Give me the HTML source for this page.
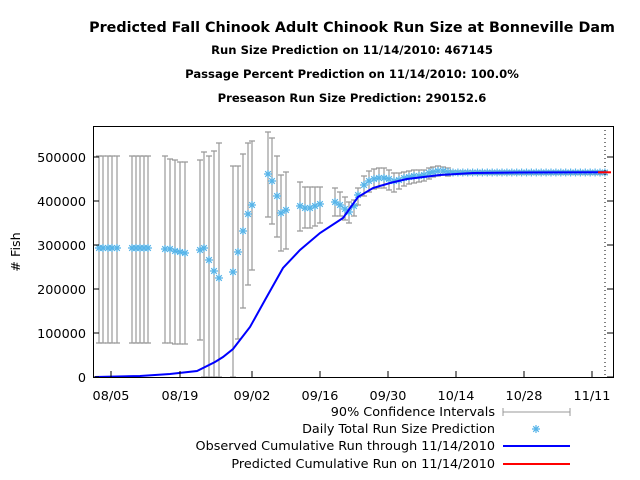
<!DOCTYPE html>
<html><head><meta charset="utf-8"><style>
body{margin:0;background:#fff}
svg{display:block;font-family:"DejaVu Sans","Liberation Sans",sans-serif}
</style></head><body>
<svg id="s" width="640" height="480" viewBox="0 0 640 480">
<g font-weight="bold" text-anchor="middle" fill="#000">
<text x="352" y="32" font-size="14.3">Predicted Fall Chinook Adult Chinook Run Size at Bonneville Dam</text>
<text x="352" y="54" font-size="11.6">Run Size Prediction on 11/14/2010: 467145</text>
<text x="352" y="78" font-size="11.6">Passage Percent Prediction on 11/14/2010: 100.0%</text>
<text x="352" y="102" font-size="11.6">Preseason Run Size Prediction: 290152.6</text>
</g>
<g font-size="12.8" fill="#000" text-anchor="end">
<text x="86" y="382">0</text>
<text x="86" y="338">100000</text>
<text x="86" y="294">200000</text>
<text x="86" y="250">300000</text>
<text x="86" y="206">400000</text>
<text x="86" y="162">500000</text>
</g>
<text transform="translate(20,252) rotate(-90)" font-size="12.8" text-anchor="middle"># Fish</text>
<g font-size="12.8" text-anchor="middle">
<text x="111" y="400">08/05</text><text x="180" y="400">08/19</text><text x="252" y="400">09/02</text>
<text x="320" y="400">09/16</text><text x="388" y="400">09/30</text><text x="456" y="400">10/14</text>
<text x="524" y="400">10/28</text><text x="592" y="400">11/11</text>
</g>
<g id="bars" stroke="#999" stroke-width="1.2" fill="none"></g>
<g id="pts" stroke="#56b4e9" stroke-width="1.2"></g>
<polyline fill="none" stroke="#0000ff" stroke-width="2" points="95,377 140,376 170,374 197,371 215,362 223,357 233,349 250,327 265,300 283,268 300,250 320,233 343,218 358,197 373,188 390,183 407,179 440,175 473,173 520,172.5 606,172.3"/>
<line x1="598" y1="172.3" x2="611" y2="172.3" stroke="#ff0000" stroke-width="2"/>
<line x1="605" y1="126" x2="605" y2="377" stroke="#000" stroke-dasharray="1,3"/>
<g id="ticks" stroke="#000"></g>
<rect x="93.5" y="126.5" width="520" height="251" fill="none" stroke="#000"/>
<g font-size="12.8" text-anchor="end">
<text x="495" y="416">90% Confidence Intervals</text>
<text x="495" y="433">Daily Total Run Size Prediction</text>
<text x="495" y="450">Observed Cumulative Run through 11/14/2010</text>
<text x="495" y="468">Predicted Cumulative Run on 11/14/2010</text>
</g>
<g stroke="#999"><line x1="503" y1="412" x2="570" y2="412"/><line x1="503" y1="408" x2="503" y2="416"/><line x1="570" y1="408" x2="570" y2="416"/></g>
<g id="lp" stroke="#56b4e9" stroke-width="1.2"></g>
<line x1="503" y1="446" x2="570" y2="446" stroke="#0000ff" stroke-width="2"/>
<line x1="503" y1="464" x2="570" y2="464" stroke="#ff0000" stroke-width="2"/>
</svg>
<script>
var NS="http://www.w3.org/2000/svg";
function el(p,t,a){var e=document.createElementNS(NS,t);for(var k in a)e.setAttribute(k,a[k]);document.getElementById(p).appendChild(e);}
function star(p,x,y){var r=4;el(p,"path",{d:"M"+(x-r)+","+y+"h"+2*r+"M"+x+","+(y-r)+"v"+2*r+"M"+(x-r*.7)+","+(y-r*.7)+"l"+1.4*r+","+1.4*r+"M"+(x-r*.7)+","+(y+r*.7)+"l"+1.4*r+","+(-1.4*r)});}
function bar(x,u,l){el("bars","path",{d:"M"+x+","+u+"V"+l+"M"+(x-3)+","+u+"h6M"+(x-3)+","+l+"h6"});}
var d=[[99,248,156,343],[103,248,156,343],[108,248,156,343],[112,248,156,343],[117,248,156,343],
[132,248,156,343],[136,248,156,343],[140,248,156,343],[144,248,156,343],[148,248,156,343],
[165,249,156,343],[170,249,159,343],[175,251,160,344],[180,252,162,344],[185,253,162,344],
[200,250,160,340],[204,248,152,377],[209,260,156,377],[214,271,151,377],[219,278,143,377],
[233,272,166,377],[238,252,166,339],[243,231,154,308],[248,214,143,285],[252,205,141,270],
[268,174,132,217],[272,181,138,224],[277,196,156,237],[281,213,175,251],[286,210,172,249],
[300,206,182,231],[305,208,187,228],[310,208,187,228],[315,206,187,226],[320,204,187,223],
[335,202,188,216],[340,205,192,216],[345,209,197,220],[349,212,202,223],[354,206,200,216],[358,195,188,205],
[364,185,176,196],[369,181,171,192],[374,179,169,189],[379,178,168,188],[384,178,168,188],[389,179,170,190],
[394,181,173,192],[399,180,173,189],[404,178,172,186],[409,177,171,184],[414,176,170,183],[419,176,170,182],
[424,175,170,181],[429,173,168,179],[433,172,167,177],[438,171,166,176],[443,171,167,175],[448,172,168,176]];
for(var x=453;x<606;x+=4.9)d.push([x,172.5,171,174.5]);
d.forEach(function(p){bar(p[0],p[2],p[3]);});
d.forEach(function(p){star("pts",p[0],p[1]);});
star("lp",536,429);
[377,333,289,245,201,157].forEach(function(y){el("ticks","path",{d:"M93,"+y+"h6M613,"+y+"h-6"});});
[111,180,252,320,388,456,524,592].forEach(function(x){el("ticks","path",{d:"M"+x+",377v-6"});});
</script>
</body></html>
